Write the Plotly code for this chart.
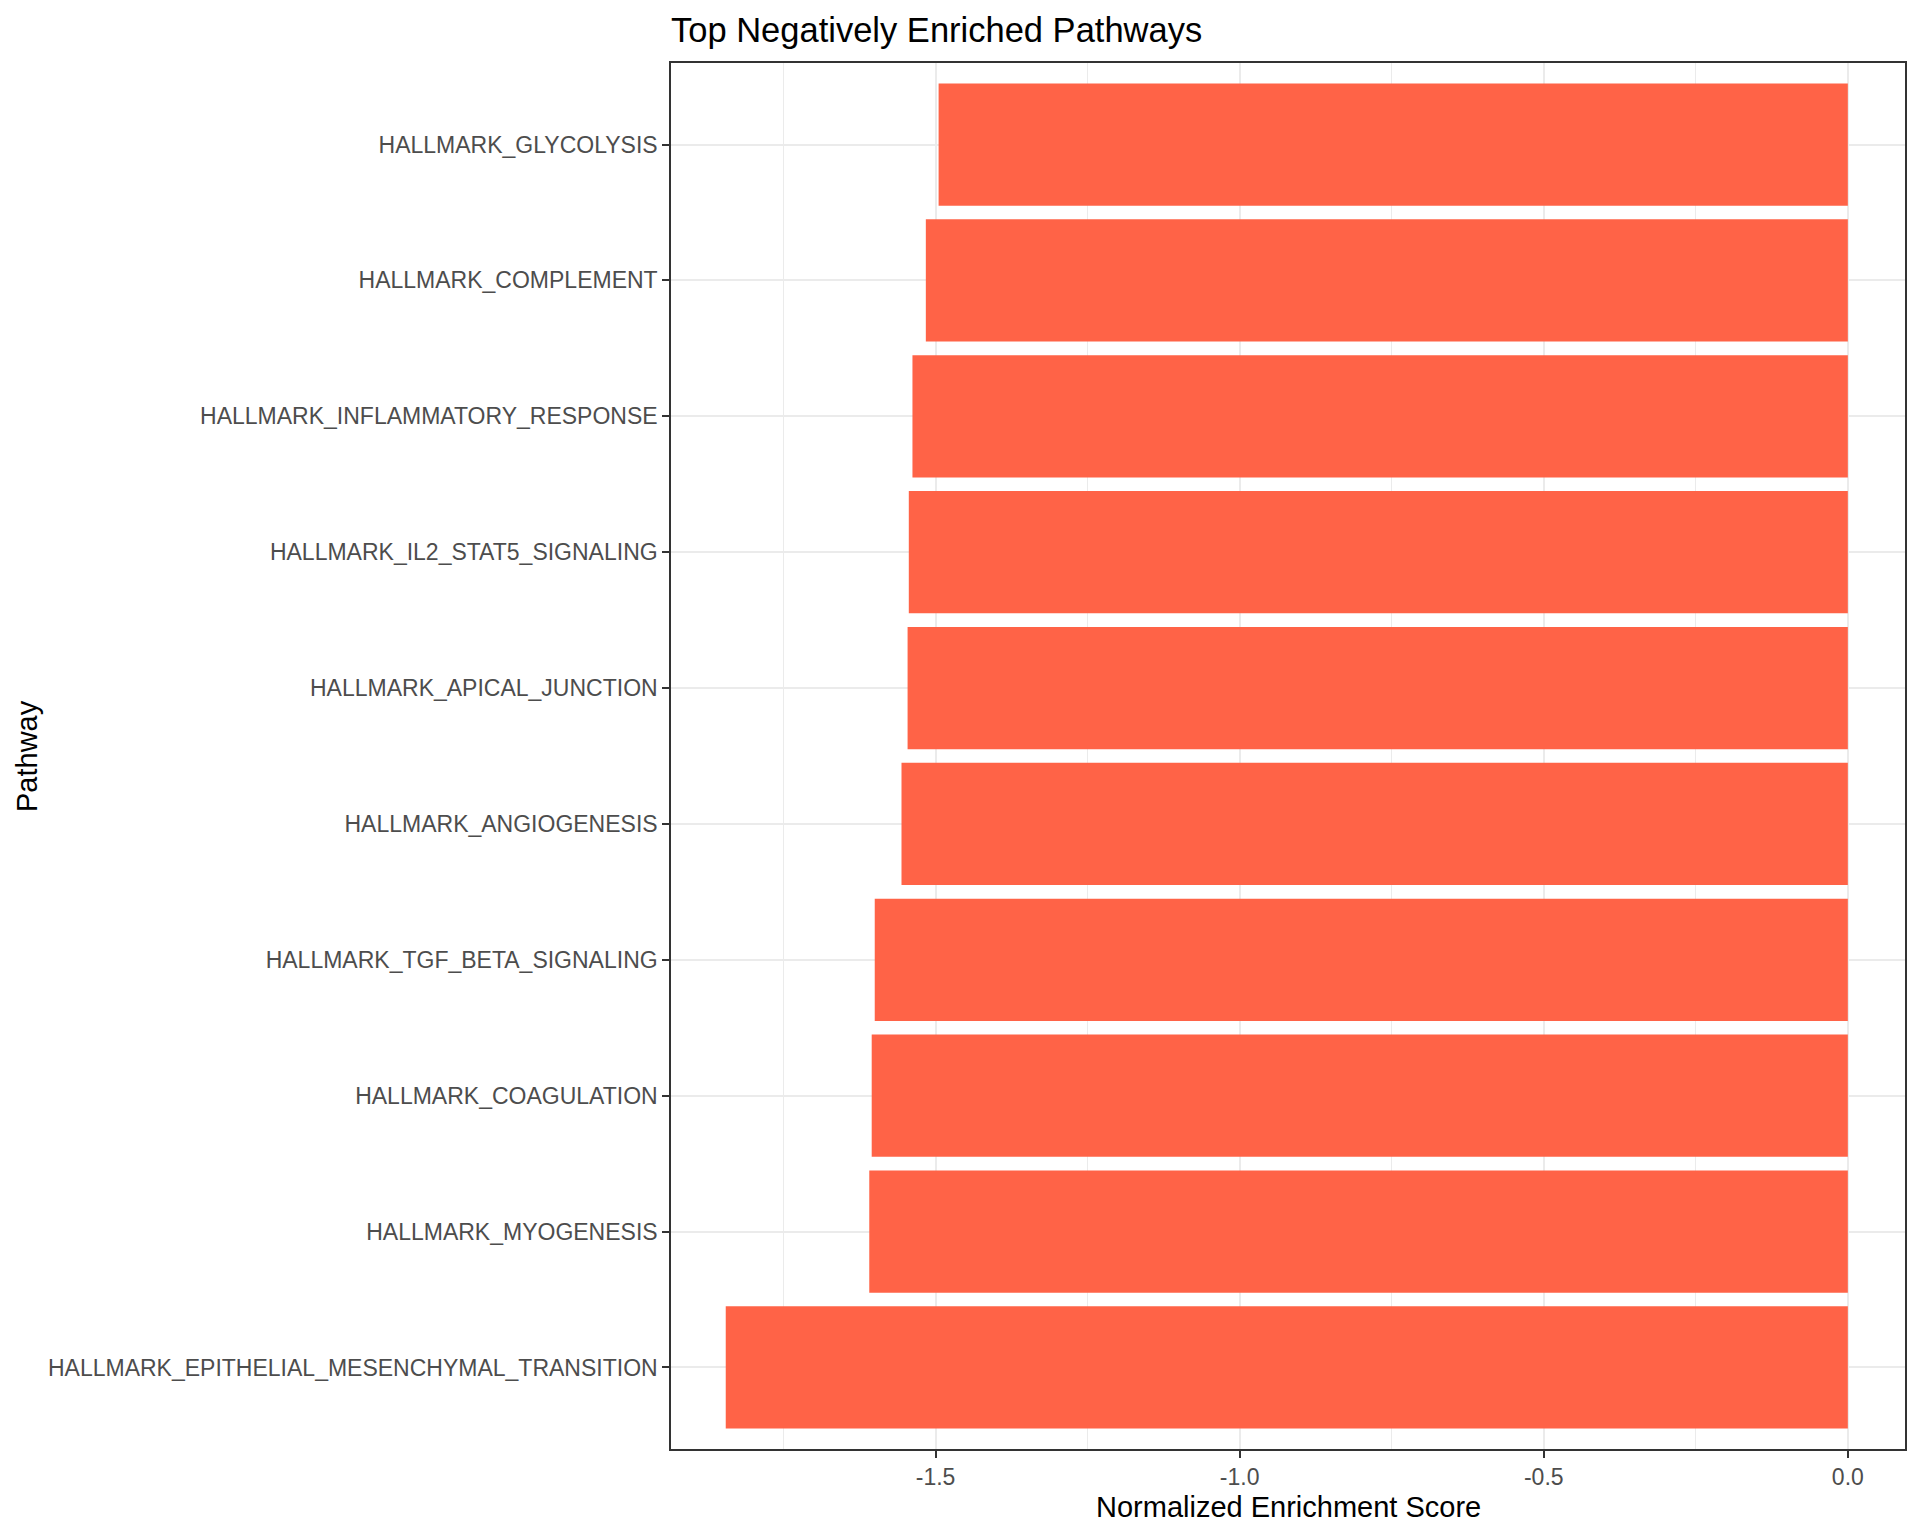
import plotly.graph_objects as go

# pathways, bottom to top as ggplot draws them
pathways = [
    "HALLMARK_EPITHELIAL_MESENCHYMAL_TRANSITION",
    "HALLMARK_MYOGENESIS",
    "HALLMARK_COAGULATION",
    "HALLMARK_TGF_BETA_SIGNALING",
    "HALLMARK_ANGIOGENESIS",
    "HALLMARK_APICAL_JUNCTION",
    "HALLMARK_IL2_STAT5_SIGNALING",
    "HALLMARK_INFLAMMATORY_RESPONSE",
    "HALLMARK_COMPLEMENT",
    "HALLMARK_GLYCOLYSIS",
]
nes = [-1.845, -1.609, -1.605, -1.600, -1.556, -1.546, -1.544, -1.538, -1.516, -1.495]

x_ticks = [-1.5, -1.0, -0.5, 0.0]
x_ticktext = ["-1.5", "-1.0", "-0.5", "0.0"]

FONT = "Liberation Sans, Arial, sans-serif"
GRID = "#EBEBEB"
BORDER = "#333333"

# page body adds an 8px margin, so the figure is a bit smaller
W, H = 1912, 1528

fig = go.Figure(
    go.Bar(
        x=nes,
        y=pathways,
        orientation="h",
        width=0.9,
        marker=dict(color="#FF6347", line=dict(width=0)),
        hovertemplate="%{y}: %{x:.3f}<extra></extra>",
    )
)

fig.update_layout(
    width=W,
    height=H,
    paper_bgcolor="white",
    plot_bgcolor="white",
    margin=dict(l=663, r=15, t=55, b=87, autoexpand=False),
    showlegend=False,
    font=dict(family=FONT, color="black"),
    title=dict(
        text="Top Negatively Enriched Pathways",
        font=dict(size=34.5, color="black", family=FONT),
        x=663 / W,
        xanchor="left",
        xref="container",
        y=1 - 22 / H,
        yanchor="middle",
        yref="container",
    ),
)

fig.update_xaxes(
    range=[-1.935, 0.094],
    tickvals=x_ticks,
    ticktext=x_ticktext,
    tickfont=dict(size=23, color="#4D4D4D"),
    ticks="outside",
    ticklen=7,
    tickwidth=1.5,
    tickcolor=BORDER,
    showgrid=True,
    gridcolor=GRID,
    gridwidth=2,
    minor=dict(tickvals=[-1.75, -1.25, -0.75, -0.25], showgrid=True, gridcolor=GRID, gridwidth=1, ticks=""),
    showline=True,
    mirror=True,
    linecolor=BORDER,
    linewidth=1.5,
    zeroline=False,
)

fig.update_yaxes(
    type="category",
    categoryorder="array",
    categoryarray=pathways,
    range=[-0.6, 9.6],
    tickfont=dict(size=23, color="#4D4D4D"),
    ticks="outside",
    ticklen=7,
    tickwidth=1.5,
    tickcolor=BORDER,
    showgrid=True,
    gridcolor=GRID,
    gridwidth=2,
    showline=True,
    mirror=True,
    linecolor=BORDER,
    linewidth=1.5,
    zeroline=False,
)

# axis titles placed like ggplot
fig.add_annotation(
    text="Normalized Enrichment Score",
    xref="paper", yref="paper",
    x=0.5, y=-58 / 1386,
    xanchor="center", yanchor="middle",
    showarrow=False,
    font=dict(size=29, color="black", family=FONT),
)
fig.add_annotation(
    text="Pathway",
    xref="paper", yref="paper",
    x=-644 / 1234, y=0.5,
    xanchor="center", yanchor="middle",
    textangle=-90,
    showarrow=False,
    font=dict(size=29, color="black", family=FONT),
)

fig.write_html("out.html")
